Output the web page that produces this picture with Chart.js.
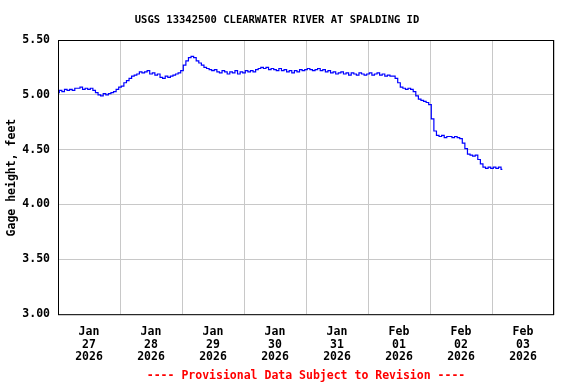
<!DOCTYPE html>
<html>
<head>
<meta charset="utf-8">
<script src="https://cdn.jsdelivr.net/npm/chart.js@4"></script>
<style>
  html, body { margin: 0; padding: 0; background: #fff; }
  #wrap { width: 576px; height: 384px; }
</style>
</head>
<body>
<div id="wrap"><canvas id="gage"></canvas></div>
<script>
// hourly readings, hour 0 = Jan 27 2026 00:00
const hours = [];
const gageHeight = [
  5.02, 5.04, 5.03, 5.05, 5.04, 5.05, 5.04, 5.06, 5.06, 5.07, 5.05, 5.06,
  5.05, 5.06, 5.04, 5.02, 5.00, 4.99, 5.01, 5.00, 5.01, 5.02, 5.03, 5.05,
  5.07, 5.08, 5.11, 5.13, 5.15, 5.17, 5.18, 5.19, 5.21, 5.20, 5.21, 5.22,
  5.19, 5.20, 5.18, 5.19, 5.16, 5.15, 5.17, 5.16, 5.17, 5.18, 5.19, 5.20,
  5.22, 5.27, 5.31, 5.34, 5.35, 5.34, 5.31, 5.29, 5.27, 5.25, 5.24, 5.23,
  5.22, 5.23, 5.21, 5.20, 5.22, 5.21, 5.19, 5.21, 5.20, 5.22, 5.19, 5.21,
  5.20, 5.22, 5.21, 5.22, 5.21, 5.23, 5.24, 5.25, 5.24, 5.25, 5.23, 5.24,
  5.23, 5.22, 5.24, 5.22, 5.23, 5.21, 5.22, 5.20, 5.22, 5.21, 5.23, 5.22,
  5.23, 5.24, 5.23, 5.22, 5.23, 5.24, 5.22, 5.23, 5.21, 5.22, 5.20, 5.21,
  5.19, 5.20, 5.21, 5.19, 5.20, 5.18, 5.20, 5.19, 5.18, 5.20, 5.19, 5.18,
  5.19, 5.20, 5.18, 5.19, 5.20, 5.18, 5.19, 5.17, 5.18, 5.17, 5.17, 5.15,
  5.11, 5.07, 5.06, 5.05, 5.06, 5.05, 5.03, 4.99, 4.96, 4.95, 4.94, 4.93,
  4.91, 4.78, 4.67, 4.63, 4.62, 4.63, 4.61, 4.62, 4.62, 4.61, 4.62, 4.61,
  4.60, 4.56, 4.51, 4.46, 4.45, 4.44, 4.45, 4.41, 4.37, 4.34, 4.33, 4.34,
  4.33, 4.34, 4.33, 4.34, 4.32
];
gageHeight.forEach((v, i) => hours.push(i));

const yTicks = [3.0, 3.5, 4.0, 4.5, 5.0, 5.5];
const dayLabels = [
  ['Jan', '27', '2026'], ['Jan', '28', '2026'], ['Jan', '29', '2026'], ['Jan', '30', '2026'],
  ['Jan', '31', '2026'], ['Feb', '01', '2026'], ['Feb', '02', '2026'], ['Feb', '03', '2026']
];
const dayNoons = [12, 36, 60, 84, 108, 132, 156, 180];

const mono = 'DejaVu Sans Mono';

// black frame round the plot
const frame = {
  id: 'frame',
  afterDraw(chart) {
    const a = chart.chartArea;
    const ctx = chart.ctx;
    ctx.save();
    ctx.strokeStyle = '#000';
    ctx.lineWidth = 1;
    ctx.strokeRect(a.left + 0.5, a.top + 0.5, a.right - a.left - 1, a.bottom - a.top - 1);
    ctx.restore();
  }
};

new Chart(document.getElementById('gage'), {
  type: 'line',
  data: {
    datasets: [{
      data: hours.map((h, i) => ({ x: h, y: gageHeight[i] })),
      borderColor: '#0000ff',
      borderWidth: 1.2,
      pointRadius: 0,
      stepped: 'middle',
      xAxisID: 'x',
      yAxisID: 'y'
    }]
  },
  options: {
    responsive: true,
    maintainAspectRatio: false,
    animation: false,
    layout: { padding: { left: 0, right: 22, top: 0, bottom: 0 } },
    plugins: {
      legend: { display: false },
      tooltip: { enabled: false },
      title: {
        display: true,
        text: 'USGS 13342500 CLEARWATER RIVER AT SPALDING ID',
        color: '#000',
        font: { family: mono, size: 10.5, weight: 'bold', lineHeight: 1.2 },
        padding: { top: 14, bottom: 13.4 }
      },
      subtitle: {
        display: true,
        position: 'bottom',
        fullSize: false,
        text: '---- Provisional Data Subject to Revision ----',
        color: '#ff0000',
        font: { family: mono, size: 11.5, weight: 'bold', lineHeight: 1.2 },
        padding: { top: 3, bottom: 1 }
      }
    },
    scales: {
      x: {
        type: 'linear',
        position: 'bottom',
        min: 0,
        max: 192,
        ticks: { display: false, stepSize: 24 },
        grid: { color: '#c8c8c8', drawTicks: false },
        border: { display: false },
        afterFit: s => { s.height = 0; }
      },
      xl: {
        type: 'linear',
        position: 'bottom',
        min: 0,
        max: 192,
        afterBuildTicks: s => { s.ticks = dayNoons.map(v => ({ value: v })); },
        ticks: {
          autoSkip: false,
          maxRotation: 0,
          padding: 10,
          color: '#000',
          font: { family: mono, size: 11.5, weight: 'bold', lineHeight: 1.12 },
          callback: (v, i) => dayLabels[i]
        },
        grid: { display: false, drawTicks: false },
        border: { display: false },
        afterFit: s => { s.height = 51; }
      },
      y: {
        type: 'linear',
        min: 2.99,
        max: 5.5,
        afterBuildTicks: s => { s.ticks = yTicks.map(v => ({ value: v })); },
        ticks: {
          padding: 8,
          color: '#000',
          font: { family: mono, size: 11.5, weight: 'bold' },
          callback: v => v.toFixed(2)
        },
        grid: { color: '#c8c8c8', drawTicks: false },
        border: { display: false },
        title: {
          display: true,
          text: 'Gage height, feet',
          color: '#000',
          font: { family: mono, size: 11.5, weight: 'bold', lineHeight: 1.2 },
          padding: { top: 5, bottom: 0 }
        },
        afterFit: s => { s.width = 58; }
      }
    }
  },
  plugins: [frame]
});
</script>
</body>
</html>
